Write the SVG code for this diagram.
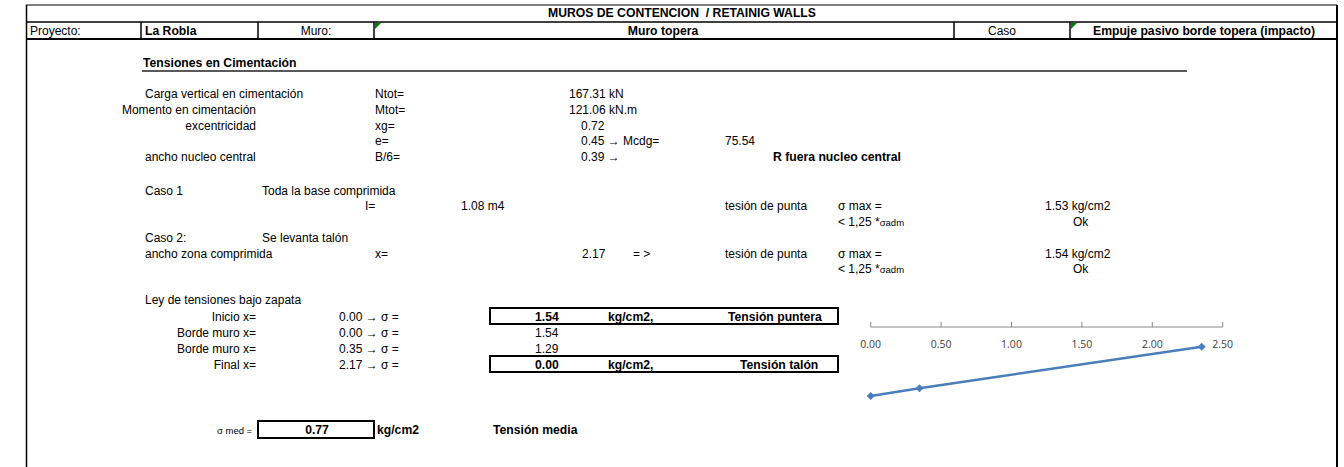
<svg xmlns="http://www.w3.org/2000/svg" width="1344" height="467" viewBox="0 0 1344 467">
<style>
text{font-family:"Liberation Sans",Arial,sans-serif;font-size:12px;fill:#000;white-space:pre}
.b{font-weight:bold;font-size:12.2px}
.e{text-anchor:end}
.m{text-anchor:middle}
.s{font-size:9.5px}
.ln{stroke:#000;fill:none}
.box{stroke:#000;stroke-width:2;fill:none}
.ax{font-family:"Open Sans","Liberation Sans",sans-serif;font-size:10.5px;fill:#404040;text-anchor:middle}
</style>
<defs>
<path id="dia" d="M0,-4L4,0L0,4L-4,0Z" fill="#4a7ebb"/>
</defs>
<rect width="1344" height="467" fill="#fff"/>
<g id="frame">
<line class="ln" x1="26" y1="5" x2="1337" y2="5" stroke-width="1"/>
<line class="ln" x1="26" y1="22" x2="1337" y2="22" stroke-width="1.5"/>
<line class="ln" x1="26" y1="39" x2="1337" y2="39" stroke-width="2"/>
<line class="ln" x1="26.5" y1="5" x2="26.5" y2="467" stroke-width="1.5"/>
<line class="ln" x1="1337" y1="5" x2="1337" y2="467" stroke-width="2"/>
<line class="ln" x1="141" y1="22" x2="141" y2="39" stroke-width="1.5"/>
<line class="ln" x1="258" y1="22" x2="258" y2="39" stroke-width="1.5"/>
<line class="ln" x1="374" y1="22" x2="374" y2="39" stroke-width="1.5"/>
<line class="ln" x1="954" y1="22" x2="954" y2="39" stroke-width="1.5"/>
<line class="ln" x1="1070" y1="22" x2="1070" y2="39" stroke-width="1.5"/>
<polygon points="375,23 381,23 375,29" fill="#008000"/>
<polygon points="1071,23 1077,23 1071,29" fill="#008000"/>
</g>
<g id="header">
<text class="b m" x="682" y="17">MUROS DE CONTENCION  / RETAINIG WALLS</text>
<text x="30" y="35">Proyecto:</text>
<text class="b" x="145" y="35">La Robla</text>
<text class="m" x="316" y="35">Muro:</text>
<text class="b m" x="663" y="35">Muro topera</text>
<text class="m" x="1002" y="35">Caso</text>
<text class="b" x="1093" y="35">Empuje pasivo borde topera (impacto)</text>
</g>
<g id="section">
<text class="b" x="143" y="67">Tensiones en Cimentación</text>
<line x1="142" y1="71" x2="1187" y2="71" stroke="#222" stroke-width="1.5"/>
</g>
<g id="loads">
<text x="145" y="98">Carga vertical en cimentación</text>
<text class="e" x="256" y="114">Momento en cimentación</text>
<text class="e" x="256" y="129.5">excentricidad</text>
<text x="145" y="161">ancho nucleo central</text>
<text x="375" y="98">Ntot=</text>
<text x="375" y="114">Mtot=</text>
<text x="375" y="129.5">xg=</text>
<text x="375" y="145">e=</text>
<text x="375" y="161">B/6=</text>
<text x="569" y="98">167.31 kN</text>
<text x="569" y="114">121.06 kN.m</text>
<text x="581" y="129.5">0.72</text>
<text x="581" y="145">0.45 → Mcdg=</text>
<text x="725" y="145">75.54</text>
<text x="581" y="161">0.39 →</text>
<text class="b" x="773" y="161">R fuera nucleo central</text>
</g>
<g id="caso1">
<text x="145" y="194.5">Caso 1</text>
<text x="262" y="194.5">Toda la base comprimida</text>
<text x="365" y="210">I=</text>
<text x="461" y="210">1.08 m4</text>
<text x="725" y="210">tesión de punta</text>
<text x="838" y="210">σ max =</text>
<text x="838" y="225.5">&lt; 1,25 *<tspan class="s">σadm</tspan></text>
<text x="1045" y="210">1.53 kg/cm2</text>
<text x="1073" y="225.5">Ok</text>
</g>
<g id="caso2">
<text x="145" y="242">Caso 2:</text>
<text x="262" y="242">Se levanta talón</text>
<text x="145" y="257.5">ancho zona comprimida</text>
<text x="375" y="257.5">x=</text>
<text x="582" y="257.5">2.17</text>
<text x="633" y="257.5">= &gt;</text>
<text x="725" y="257.5">tesión de punta</text>
<text x="838" y="257.5">σ max =</text>
<text x="838" y="273">&lt; 1,25 *<tspan class="s">σadm</tspan></text>
<text x="1045" y="257.5">1.54 kg/cm2</text>
<text x="1073" y="273">Ok</text>
</g>
<g id="ley">
<text x="145" y="304">Ley de tensiones bajo zapata</text>
<text class="e" x="256" y="320.5">Inicio x=</text>
<text class="e" x="256" y="336.5">Borde muro x=</text>
<text class="e" x="256" y="352.5">Borde muro x=</text>
<text class="e" x="256" y="368.5">Final x=</text>
<text x="339" y="320.5">0.00 → σ =</text>
<text x="339" y="336.5">0.00 → σ =</text>
<text x="339" y="352.5">0.35 → σ =</text>
<text x="339" y="368.5">2.17 → σ =</text>
<rect class="box" x="490" y="308" width="348" height="16"/>
<text class="b" x="535" y="320.5">1.54</text>
<text class="b" x="608" y="320.5">kg/cm2,</text>
<text class="b" x="728" y="320.5">Tensión puntera</text>
<text x="535" y="336.5">1.54</text>
<text x="535" y="352.5">1.29</text>
<rect class="box" x="490" y="356" width="348" height="16"/>
<text class="b" x="535" y="368.5">0.00</text>
<text class="b" x="608" y="368.5">kg/cm2,</text>
<text class="b" x="740" y="368.5">Tensión talón</text>
</g>
<g id="chart">
<line x1="870.7" y1="327" x2="1222.7" y2="327" stroke="#868686" stroke-width="1"/>
<g stroke="#868686" stroke-width="1">
<line x1="870.7" y1="322" x2="870.7" y2="327"/>
<line x1="941.1" y1="322" x2="941.1" y2="327"/>
<line x1="1011.5" y1="322" x2="1011.5" y2="327"/>
<line x1="1081.9" y1="322" x2="1081.9" y2="327"/>
<line x1="1152.3" y1="322" x2="1152.3" y2="327"/>
<line x1="1222.7" y1="322" x2="1222.7" y2="327"/>
</g>
<text class="ax" x="870.7" y="348">0.00</text>
<text class="ax" x="941.1" y="348">0.50</text>
<text class="ax" x="1011.5" y="348">1.00</text>
<text class="ax" x="1081.9" y="348">1.50</text>
<text class="ax" x="1152.3" y="348">2.00</text>
<text class="ax" x="1222.7" y="348">2.50</text>
<polyline points="870.7,396 919.5,388.3 1201.7,346.7" fill="none" stroke="#4a7ebb" stroke-width="2.5" stroke-linejoin="round"/>
<use href="#dia" x="870.7" y="396"/>
<use href="#dia" x="919.5" y="388.3"/>
<use href="#dia" x="1201.7" y="346.7"/>
</g>
<g id="media">
<text class="s" x="217" y="434">σ med =</text>
<rect class="box" x="258" y="421" width="116" height="17"/>
<text class="b m" x="317" y="434">0.77</text>
<text class="b" x="377" y="434">kg/cm2</text>
<text class="b" x="493" y="434">Tensión media</text>
</g>
</svg>
